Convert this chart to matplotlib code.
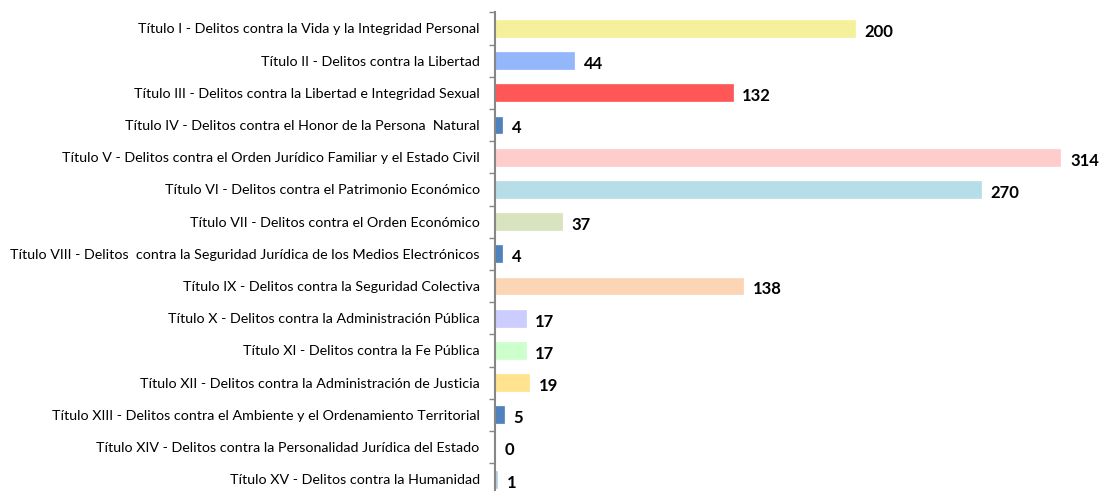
import matplotlib.pyplot as plt
import numpy as np

labels = [
    'Título I - Delitos contra la Vida y la Integridad Personal',
    'Título II - Delitos contra la Libertad',
    'Título III - Delitos contra la Libertad e Integridad Sexual',
    'Título IV - Delitos contra el Honor de la Persona  Natural',
    'Título V - Delitos contra el Orden Jurídico Familiar y el Estado Civil',
    'Título VI - Delitos contra el Patrimonio Económico',
    'Título VII - Delitos contra el Orden Económico',
    'Título VIII - Delitos  contra la Seguridad Jurídica de los Medios Electrónicos',
    'Título IX - Delitos contra la Seguridad Colectiva',
    'Título X - Delitos contra la Administración Pública',
    'Título XI - Delitos contra la Fe Pública',
    'Título XII - Delitos contra la Administración de Justicia',
    'Título XIII - Delitos contra el Ambiente y el Ordenamiento Territorial',
    'Título XIV - Delitos contra la Personalidad Jurídica del Estado',
    'Título XV - Delitos contra la Humanidad',
]
values = [200, 44, 132, 4, 314, 270, 37, 4, 138, 17, 17, 19, 5, 0, 1]
colors = ['#F5F19B', '#94B6FA', '#FF5757', '#4F81BD', '#FFCCCC', '#B7DDE8',
          '#D7E4BD', '#4F81BD', '#FBD5B5', '#CCCCFF', '#CCFFCC', '#FFE38F',
          '#4F81BD', '#FFFFFF', '#B9CDE5']

fig = plt.figure(figsize=(11.04, 4.91), dpi=100)
ax = fig.add_axes([495 / 1104, 1 - 495.3 / 491, 594 / 1104, 483 / 491])

y = np.arange(len(values))
ax.barh(y, values, height=0.52, color=colors, edgecolor=colors, linewidth=0.5)
ax.set_ylim(len(values) - 0.5, -0.5)
ax.set_xlim(0, 330)

# etiquetas de valor
for yi, v in zip(y, values):
    ax.annotate(str(v), (v, yi), xytext=(7, -2.5), textcoords='offset points',
                ha='left', va='center', fontsize=12, fontweight='bold',
                family='Lato', annotation_clip=False)

ax.set_yticks(y)
ax.set_yticklabels(labels, family='Lato', fontsize=10.3)
ax.tick_params(axis='y', which='major', length=0, pad=11)
ax.set_yticks(np.arange(-0.5, len(values)), minor=True)
ax.tick_params(axis='y', which='minor', length=4, width=1, color='#868686', direction='out')
ax.set_xticks([])
for s in ['top', 'right', 'bottom']:
    ax.spines[s].set_visible(False)
ax.spines['left'].set_color('#868686')
ax.spines['left'].set_linewidth(1.5)

fig.savefig('out.png', dpi=100)
